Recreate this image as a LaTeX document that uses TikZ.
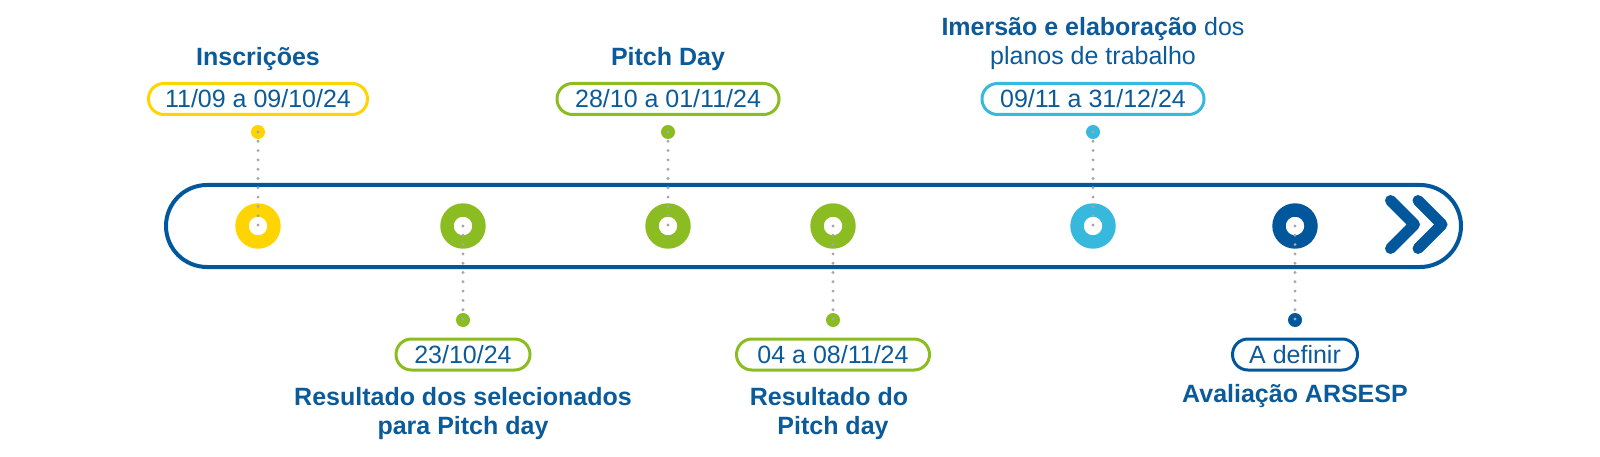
\documentclass[tikz,border=0pt]{standalone}
\usepackage{fontspec}
\setmainfont{Liberation Sans}
\definecolor{yellowc}{HTML}{FFD400}
\definecolor{greenc}{HTML}{8BBD23}
\definecolor{cyanc}{HTML}{36B9DC}
\definecolor{navy}{HTML}{00579B}
\definecolor{textc}{HTML}{0B5A99}
\definecolor{dotgray}{HTML}{A6A6A6}
\begin{document}
\begin{tikzpicture}[x=1pt,y=-1pt,
 ring/.style={circle, draw=#1, fill=white, line width=13.4pt, minimum size=32pt, inner sep=0pt},
 pin/.style={circle, fill=#1, minimum size=14pt, inner sep=0pt},
 datebox/.style={draw=#1, line width=3pt, rounded corners=15.4pt, minimum height=31pt, inner sep=0pt,
   text=textc, text height=18pt, text depth=0pt, font=\fontsize{25}{30}\selectfont},
 title/.style={text=textc, font=\fontsize{25}{30}\selectfont\bfseries, inner sep=0pt, anchor=base},
 plain/.style={text=textc, font=\fontsize{25}{30}\selectfont, inner sep=0pt, anchor=base},
 dotline/.style={draw=dotgray, line width=3.2pt, line cap=round, dash pattern=on 0pt off 9.3pt},
 chev/.style={draw=navy, line width=11pt, line cap=round, line join=round}
]
\useasboundingbox (0,0) rectangle (1600,457);
% track
\draw[navy, line width=4pt, rounded corners=41pt] (166,185) rectangle (1461,267);
\draw[chev] (1390.5,200.5) -- (1414.5,224.5) -- (1390.5,248.5);
\draw[chev] (1418,200.5) -- (1442,224.5) -- (1418,248.5);
% rings
\node[ring=yellowc] (c1) at (258,226) {};
\node[ring=greenc]  (c2) at (463,226) {};
\node[ring=greenc]  (c3) at (668,226) {};
\node[ring=greenc]  (c4) at (833,226) {};
\node[ring=cyanc]   (c5) at (1093,226) {};
\node[ring=navy]    (c6) at (1295,226) {};
% pins
\node[pin=yellowc] (p1) at (258,132) {};
\node[pin=greenc]  (p2) at (463,320) {};
\node[pin=greenc]  (p3) at (668,132) {};
\node[pin=greenc]  (p4) at (833,320) {};
\node[pin=cyanc]   (p5) at (1093,132) {};
\node[pin=navy]    (p6) at (1295,320) {};
% dotted connectors
\draw[dotline] (p1.center) -- (c1.center);
\draw[dotline] (c2.center) -- (p2.center);
\draw[dotline] (p3.center) -- (c3.center);
\draw[dotline] (c4.center) -- (p4.center);
\draw[dotline] (p5.center) -- (c5.center);
\draw[dotline] (c6.center) -- (p6.center);
% date boxes
\node[datebox=yellowc, minimum width=219pt] (b1) at (258,99) {11/09 a 09/10/24};
\node[datebox=greenc,  minimum width=222pt] (b3) at (668,99) {28/10 a 01/11/24};
\node[datebox=cyanc,   minimum width=222pt] (b5) at (1093,99) {09/11 a 31/12/24};
\node[datebox=greenc,  minimum width=134pt] (b2) at (463,354.5) {23/10/24};
\node[datebox=greenc,  minimum width=193pt] (b4) at (833,354.5) {04 a 08/11/24};
\node[datebox=navy,    minimum width=125pt] (b6) at (1295,354.5) {A definir};
% titles
\node[title] (t1) at (258,66) {Inscrições};
\node[title] (t3) at (668,66) {Pitch Day};
\node[plain] (t5a) at (1093,36) {\bfseries Imersão e elaboração \mdseries dos};
\node[plain] (t5b) at (1093,65) {planos de trabalho};
\node[title] (t2a) at (463,405) {Resultado dos selecionados};
\node[title] (t2b) at (463,434) {para Pitch day};
\node[title] (t4a) at (829,405) {Resultado do};
\node[title] (t4b) at (833,434) {Pitch day};
\node[title] (t6) at (1295,402) {Avaliação ARSESP};
\end{tikzpicture}
\end{document}
